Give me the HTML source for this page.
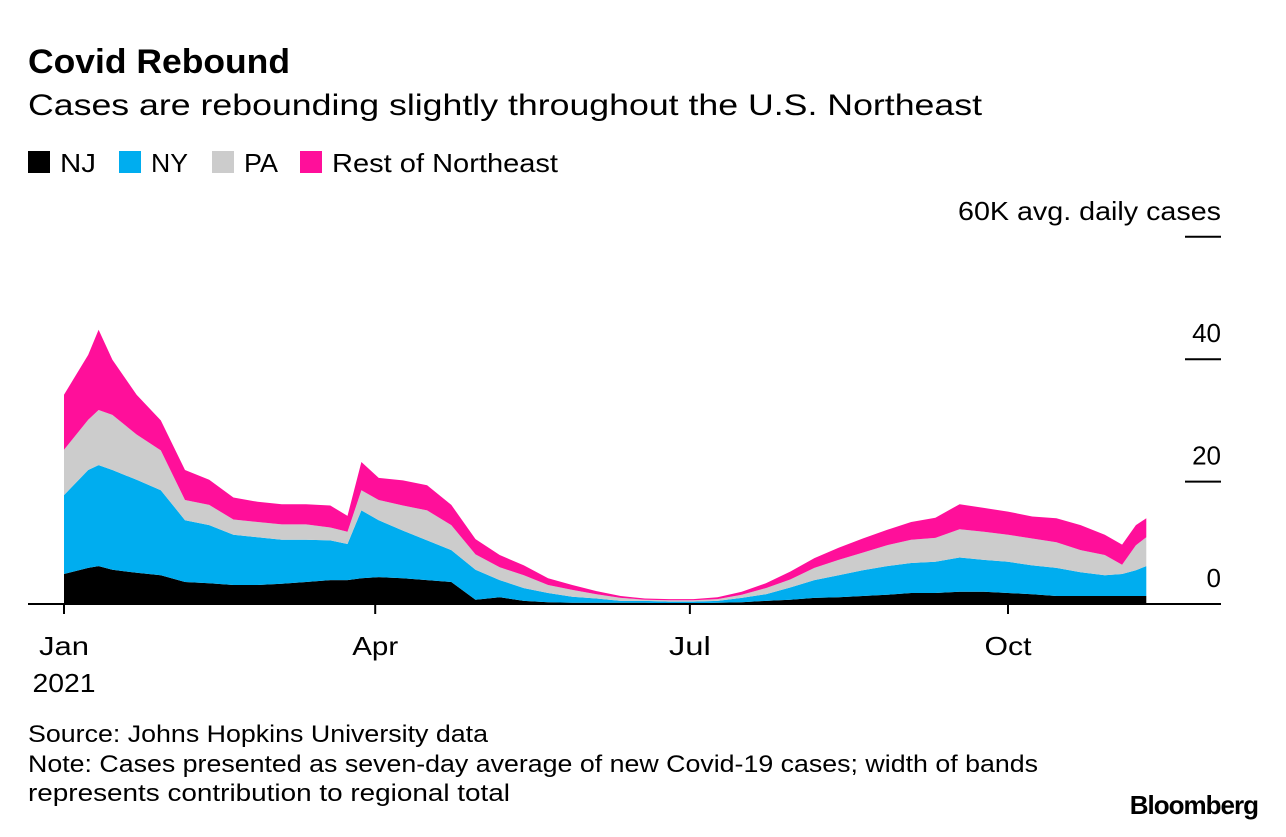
<!DOCTYPE html>
<html><head><meta charset="utf-8"><style>
body{margin:0;background:#fff;}
svg text{font-family:"Liberation Sans",Arial,sans-serif;fill:#000;}
</style></head><body>
<svg id="chart" width="1286" height="832" viewBox="0 0 1286 832" xmlns="http://www.w3.org/2000/svg">
<text x="28" y="73" font-size="34" font-weight="bold" textLength="262" lengthAdjust="spacingAndGlyphs">Covid Rebound</text>
<text x="28" y="115" font-size="30" textLength="954" lengthAdjust="spacingAndGlyphs">Cases are rebounding slightly throughout the U.S. Northeast</text>
<g>
<rect x="28" y="151" width="22" height="22" fill="#000"/>
<text x="60" y="172" font-size="26" textLength="36" lengthAdjust="spacingAndGlyphs">NJ</text>
<rect x="119" y="151" width="22" height="22" fill="#00adef"/>
<text x="151" y="172" font-size="26" textLength="37" lengthAdjust="spacingAndGlyphs">NY</text>
<rect x="212" y="151" width="22" height="22" fill="#cccccc"/>
<text x="244" y="172" font-size="26" textLength="34" lengthAdjust="spacingAndGlyphs">PA</text>
<rect x="300" y="151" width="22" height="22" fill="#ff0f9a"/>
<text x="332" y="172" font-size="26" textLength="226" lengthAdjust="spacingAndGlyphs">Rest of Northeast</text>
</g>
<g id="areas"></g>
<g id="axes"></g>
<text x="28" y="742" font-size="24" textLength="460" lengthAdjust="spacingAndGlyphs">Source: Johns Hopkins University data</text>
<text x="28" y="772" font-size="24" textLength="1010" lengthAdjust="spacingAndGlyphs">Note: Cases presented as seven-day average of new Covid-19 cases; width of bands</text>
<text x="28" y="801" font-size="24" textLength="482" lengthAdjust="spacingAndGlyphs">represents contribution to regional total</text>
<text x="1258" y="814" font-size="26" font-weight="bold" text-anchor="end" style="letter-spacing:-1px">Bloomberg</text>
</svg>
<script>
const days=[0,7,10,14,21,28,35,42,49,56,63,70,77,82,86,91,98,105,112,119,126,133,140,147,154,161,168,175,182,189,196,203,210,217,224,231,238,245,252,259,266,273,280,287,294,301,306,310,313];
const nj=[4.9,5.9,6.2,5.6,5.1,4.7,3.6,3.4,3.1,3.1,3.3,3.6,3.9,3.9,4.2,4.4,4.2,3.9,3.6,0.7,1.1,0.5,0.3,0.2,0.2,0.2,0.2,0.1,0.1,0.2,0.3,0.5,0.7,1.0,1.1,1.3,1.5,1.8,1.8,2.0,2.0,1.8,1.6,1.3,1.3,1.3,1.3,1.3,1.3];
const ny=[12.9,16.0,16.5,16.3,15.2,13.9,10.1,9.5,8.2,7.8,7.2,6.9,6.5,5.9,11.1,9.3,7.8,6.5,5.2,4.9,2.8,2.1,1.5,1.0,0.7,0.3,0.3,0.3,0.3,0.3,0.7,1.1,2.0,2.9,3.6,4.2,4.7,4.9,5.1,5.6,5.2,5.1,4.7,4.6,3.9,3.4,3.6,4.2,4.9];
const pa=[7.4,8.2,9.0,9.0,7.4,6.5,3.3,3.3,2.5,2.5,2.5,2.5,2.1,2.0,3.3,3.3,4.1,4.9,4.1,2.5,2.1,2.1,1.3,1.1,0.7,0.5,0.2,0.2,0.2,0.3,0.5,1.0,1.3,2.0,2.5,2.9,3.4,3.8,3.9,4.6,4.6,4.4,4.4,4.2,3.6,3.3,1.5,4.1,4.7];
const rest=[9.0,10.6,13.1,9.0,6.5,4.9,4.9,4.1,3.6,3.3,3.3,3.3,3.6,2.6,4.6,3.6,4.1,4.1,3.3,2.5,2.0,1.6,1.1,0.8,0.5,0.3,0.2,0.2,0.2,0.3,0.5,0.8,1.3,1.6,2.0,2.3,2.5,2.9,3.3,4.1,3.9,3.8,3.6,3.9,4.1,3.3,3.3,3.3,3.1];
const yTicks=[0,20,40,60];
const xTickDays=[0,90,181,273];
const xTickLabels=["Jan","Apr","Jul","Oct"];
const NS="http://www.w3.org/2000/svg";
const x=d=>64+d*(944/273);
const y=v=>604-v*6.12;
const series=[nj,ny,pa,rest];
const colors=["#000000","#00adef","#cccccc","#ff0f9a"];
const names=["area-nj","area-ny","area-pa","area-rest-of-northeast"];
const areas=document.getElementById('areas');
let base=days.map(()=>0);
series.forEach((s,k)=>{
  const top=base.map((b,i)=>b+s[i]);
  let d="M"+days.map((dd,i)=>x(dd).toFixed(1)+","+y(top[i]).toFixed(1)).join("L");
  for(let i=days.length-1;i>=0;i--) d+="L"+x(days[i]).toFixed(1)+","+y(base[i]).toFixed(1);
  d+="Z";
  const p=document.createElementNS(NS,'path');
  p.setAttribute('d',d);p.setAttribute('fill',colors[k]);
  
  
  areas.appendChild(p);
  base=top;
});
const axes=document.getElementById('axes');
function line(x1,y1,x2,y2,name){const l=document.createElementNS(NS,'line');l.setAttribute('x1',x1);l.setAttribute('y1',y1);l.setAttribute('x2',x2);l.setAttribute('y2',y2);l.setAttribute('stroke','#000');l.setAttribute('stroke-width','2');


axes.appendChild(l);}
function txt(s,tx,ty,anchor,name,len){const t=document.createElementNS(NS,'text');t.textContent=s;t.setAttribute('x',tx);t.setAttribute('y',ty);t.setAttribute('font-size','26');t.setAttribute('text-anchor',anchor);
if(len){t.setAttribute('textLength',len);t.setAttribute('lengthAdjust','spacingAndGlyphs');}


axes.appendChild(t);}
line(28,604,1221,604,'x-axis-baseline');
yTicks.forEach(v=>{
  if(v>0) line(1185,y(v),1221,y(v),'y-gridline-tick');
  txt(v===60?"60K avg. daily cases":String(v),1221,y(v)-17,'end','y-tick-label',v===60?263:null);
});
const xLens=[50,46,42,47];
xTickDays.forEach((d,i)=>{
  line(x(d),604,x(d),614,'x-tick');
  txt(xTickLabels[i],x(d),655,'middle','x-tick-label',xLens[i]);
});
txt("2021",x(0),692,'middle','x-year-label',63);
</script>
</body></html>
